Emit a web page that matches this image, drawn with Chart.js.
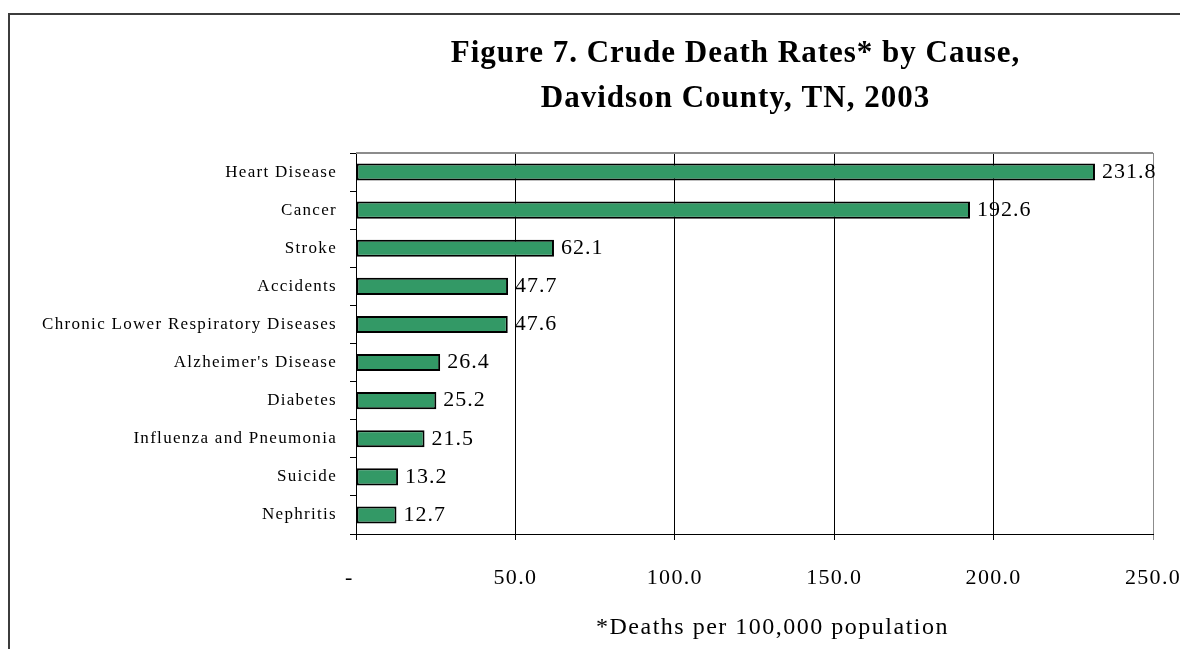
<!DOCTYPE html>
<html>
<head>
<meta charset="utf-8">
<style>
  html, body { margin: 0; padding: 0; background: #ffffff; }
  #wrap { width: 1180px; height: 649px; position: relative; }
</style>
<script src="https://cdn.jsdelivr.net/npm/chart.js@4/dist/chart.umd.min.js"></script>
</head>
<body>
<div id="wrap"><canvas id="c" width="1180" height="649"></canvas></div>
<script>
// ---- data ----
const causes = [
  'Heart Disease',
  'Cancer',
  'Stroke',
  'Accidents',
  'Chronic Lower Respiratory Diseases',
  "Alzheimer's Disease",
  'Diabetes',
  'Influenza and Pneumonia',
  'Suicide',
  'Nephritis'
];
const rates = [231.8, 192.6, 62.1, 47.7, 47.6, 26.4, 25.2, 21.5, 13.2, 12.7];
const xMin = 0;
const xMax = 250;
const xStep = 50;
const titleLines = ['Figure 7. Crude Death Rates* by Cause,', 'Davidson County, TN, 2003'];
const xAxisTitle = '*Deaths per 100,000 population';

const SERIF = '"Liberation Serif", "Times New Roman", serif';

const decor = {
  id: 'decor',
  beforeDraw(chart) {
    const ctx = chart.ctx;
    ctx.save();
    ctx.fillStyle = '#ffffff';
    ctx.fillRect(0, 0, chart.width, chart.height);
    ctx.restore();
    if ('letterSpacing' in ctx) ctx.letterSpacing = '1.3px';
  },
  beforeDatasetsDraw(chart) {
    const ctx = chart.ctx;
    const a = chart.chartArea;
    // plot-area top border (grey)
    ctx.save();
    ctx.strokeStyle = '#8c8c8c';
    ctx.lineWidth = 2;
    ctx.beginPath();
    ctx.moveTo(a.left, a.top);
    ctx.lineTo(a.right, a.top);
    ctx.stroke();
    ctx.restore();
  },
  afterDatasetsDraw(chart) {
    const ctx = chart.ctx;
    const meta = chart.getDatasetMeta(0);
    ctx.save();
    if ('letterSpacing' in ctx) ctx.letterSpacing = '1px';
    ctx.font = '22px ' + SERIF;
    ctx.fillStyle = '#000000';
    ctx.textAlign = 'left';
    ctx.textBaseline = 'middle';
    meta.data.forEach((bar, i) => {
      ctx.fillText(rates[i].toFixed(1), bar.x + 7, bar.y);
    });
    ctx.restore();
  },
  afterDraw(chart) {
    const ctx = chart.ctx;
    const a = chart.chartArea;
    ctx.save();
    // outer frame (top + left visible)
    ctx.strokeStyle = '#3c3c3c';
    ctx.lineWidth = 2;
    ctx.beginPath();
    ctx.moveTo(9, chart.height);
    ctx.lineTo(9, 14);
    ctx.lineTo(chart.width, 14);
    ctx.stroke();
    // title
    ctx.fillStyle = '#000000';
    if ('letterSpacing' in ctx) ctx.letterSpacing = '1px';
    ctx.font = 'bold 31px ' + SERIF;
    ctx.textAlign = 'center';
    ctx.textBaseline = 'alphabetic';
    const cx = (a.left + a.right) / 2 - 19;
    ctx.fillText(titleLines[0], cx, 62);
    ctx.fillText(titleLines[1], cx, 107);
    // x-axis title
    if ('letterSpacing' in ctx) ctx.letterSpacing = '1.5px';
    ctx.font = '24px ' + SERIF;
    ctx.fillText(xAxisTitle, (a.left + a.right) / 2 + 18, 634);
    ctx.restore();
  }
};

new Chart(document.getElementById('c'), {
  type: 'bar',
  data: {
    labels: causes,
    datasets: [{
      data: rates,
      backgroundColor: '#339966',
      borderColor: '#000000',
      borderWidth: 2,
      borderSkipped: false,
      barPercentage: 0.45,
      categoryPercentage: 1.0
    }]
  },
  options: {
    indexAxis: 'y',
    responsive: false,
    devicePixelRatio: 1,
    animation: false,
    layout: { padding: { left: 0, top: 153, right: 27, bottom: 0 } },
    plugins: {
      legend: { display: false },
      tooltip: { enabled: false },
      title: { display: false }
    },
    scales: {
      x: {
        type: 'linear',
        position: 'bottom',
        min: xMin,
        max: xMax,
        ticks: {
          stepSize: xStep,
          padding: 25,
          color: '#000000',
          font: { family: SERIF, size: 22 },
          maxRotation: 0,
          callback: (v) => v === 0 ? '-  ' : Number(v).toFixed(1)
        },
        grid: {
          display: true,
          drawOnChartArea: true,
          drawTicks: true,
          tickLength: 6,
          lineWidth: 1,
          color: (c) => (c.tick && c.tick.value === xMax) ? '#8c8c8c' : '#000000'
        },
        border: { display: true, color: '#000000', width: 1 },
        afterFit: (s) => { s.height = 115; s.paddingLeft = 0; s.paddingRight = 0; }
      },
      y: {
        type: 'category',
        position: 'left',
        ticks: {
          padding: 13,
          color: '#000000',
          font: { family: SERIF, size: 17 },
          autoSkip: false
        },
        grid: {
          display: true,
          offset: true,
          drawOnChartArea: false,
          drawTicks: true,
          tickLength: 6,
          color: '#000000',
          lineWidth: 1
        },
        border: { display: true, color: '#000000', width: 1 },
        afterFit: (s) => { s.width = 356; s.paddingTop = 0; s.paddingBottom = 0; }
      }
    }
  },
  plugins: [decor]
});
</script>
</body>
</html>
